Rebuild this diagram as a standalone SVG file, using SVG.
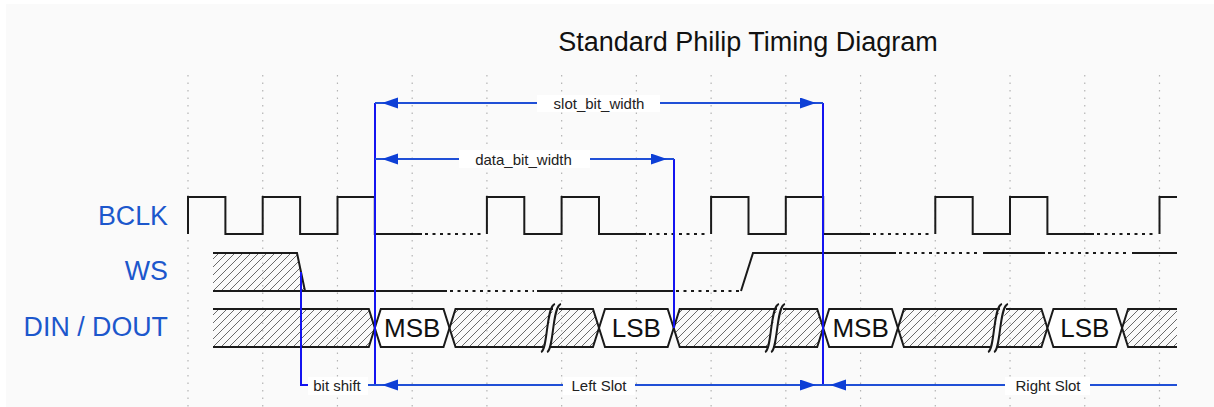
<svg xmlns="http://www.w3.org/2000/svg" width="1214" height="407" viewBox="0 0 1214 407">
<style>
.bg{fill:#fafafa}
.grid{stroke:#b4b4b4;stroke-width:1.2;stroke-dasharray:1.5 6;fill:none}
.wave{stroke:#1a1a1a;stroke-width:2;fill:none;stroke-linejoin:miter}
.dot{stroke:#1a1a1a;stroke-width:2;fill:none;stroke-dasharray:3 4.5}
.hatch{fill:url(#hatch);stroke:none}
.box{fill:#ffffff;stroke:#1a1a1a;stroke-width:2}
.slash{fill:none;stroke:#1a1a1a;stroke-width:2}
.vline{stroke:#1414f0;stroke-width:2;fill:none}
.dim{stroke:#1f4fd6;stroke-width:2;fill:none}
.lblbg{fill:#ffffff}
.title{font-family:"Liberation Sans",Arial,sans-serif;font-size:27px;fill:#111111}
.sig{font-family:"Liberation Sans",Arial,sans-serif;font-size:26.8px;fill:#1c57cc;text-anchor:end}
.bit{font-family:"Liberation Sans",Arial,sans-serif;font-size:26px;fill:#111111;text-anchor:middle}
.small{font-family:"Liberation Sans",Arial,sans-serif;font-size:15px;fill:#222222;text-anchor:middle}
</style>
<defs>
<pattern id="hatch" patternUnits="userSpaceOnUse" width="8" height="8">
<path d="M-2,2 L2,-2 M0,8 L8,0 M6,10 L10,6" stroke="#5a5a5a" stroke-width="0.9"/>
</pattern>
<marker id="arr" markerUnits="userSpaceOnUse" markerWidth="24" markerHeight="12" refX="23" refY="5.5" orient="auto-start-reverse">
<path d="M0,0 L16,5.5 L0,11 Z" fill="#0d3fd6"/>
</marker>
</defs>
<rect class="bg" x="6" y="4" width="1208" height="403"/>
<g id="grid">
<path class="grid" d="M188,75V407 M262.73,75V407 M337.46,75V407 M412.19,75V407 M486.92,75V407 M561.65,75V407 M636.38,75V407 M711.11,75V407 M785.84,75V407 M860.57,75V407 M935.3,75V407 M1010.03,75V407 M1084.76,75V407 M1159.49,75V407"/>
</g>
<g id="title"><text class="title" x="748" y="51" text-anchor="middle">Standard Philip Timing Diagram</text></g>
<g id="labels">
<text class="sig" x="168" y="225">BCLK</text>
<text class="sig" x="168" y="280">WS</text>
<text class="sig" x="168" y="336">DIN / DOUT</text>
</g>
<g id="bclk">
<path class="wave" d="M188,234 V197 H225.4 V234 H262.7 V197 H300.1 V234 H337.5 V197 H374.8 V234 H422"/>
<path class="dot" d="M425,234 H484"/>
<path class="wave" d="M486.9,234 V197 H524.3 V234 H561.6 V197 H599 V234 H646"/>
<path class="dot" d="M649,234 H708"/>
<path class="wave" d="M711.1,234 V197 H748.5 V234 H785.8 V197 H823.2 V234 H870"/>
<path class="dot" d="M873,234 H932"/>
<path class="wave" d="M935.3,234 V197 H972.7 V234 H1010 V197 H1047.4 V234 H1094"/>
<path class="dot" d="M1097,234 H1156"/>
<path class="wave" d="M1159.5,234 V197 H1177"/>
</g>
<g id="ws">
<path class="hatch" d="M213,253 H297 L305,291 H213 Z"/>
<path class="wave" d="M213,253 H297 L305,291 M213,291 H447"/>
<path class="dot" d="M450,291 H534"/>
<path class="wave" d="M537,291 H673"/>
<path class="dot" d="M676,291 H740"/>
<path class="wave" d="M741,291 L753,253 H896"/>
<path class="dot" d="M899,253 H981"/>
<path class="wave" d="M983,253 H1045"/>
<path class="dot" d="M1048,253 H1130"/>
<path class="wave" d="M1132,253 H1177"/>
</g>
<g id="din">
<path class="hatch" d="M213,309 H368.8 L374.8,328 L368.8,347 H213 Z"/>
<path class="wave" d="M213,309 H368.8 L374.8,328 L368.8,347 H213"/>
<path class="box" d="M374.8,328 L380.8,309 H443.5 L449.5,328 L443.5,347 H380.8 Z"/>
<text class="bit" x="412.2" y="337">MSB</text>
<path class="hatch" d="M449.5,328 L455.5,309 H553 L543,347 H455.5 Z"/>
<path class="wave" d="M553,309 H455.5 L449.5,328 L455.5,347 H543"/>
<path class="slash" d="M541,352 C548,350 546,306 555,304"/>
<path class="hatch" d="M559,309 H593 L599,328 L593,347 H549 Z"/>
<path class="wave" d="M559,309 H593 L599,328 L593,347 H549"/>
<path class="slash" d="M547,352 C554,350 552,306 561,304"/>
<path class="box" d="M599,328 L605,309 H667.7 L673.7,328 L667.7,347 H605 Z"/>
<text class="bit" x="636.4" y="337">LSB</text>
<path class="hatch" d="M673.7,328 L679.7,309 H777 L767,347 H679.7 Z"/>
<path class="wave" d="M777,309 H679.7 L673.7,328 L679.7,347 H767"/>
<path class="slash" d="M765,352 C772,350 770,306 779,304"/>
<path class="hatch" d="M783,309 H817.2 L823.2,328 L817.2,347 H773 Z"/>
<path class="wave" d="M783,309 H817.2 L823.2,328 L817.2,347 H773"/>
<path class="slash" d="M771,352 C778,350 776,306 785,304"/>
<path class="box" d="M823.2,328 L829.2,309 H891.9 L897.9,328 L891.9,347 H829.2 Z"/>
<text class="bit" x="860.6" y="337">MSB</text>
<path class="hatch" d="M897.9,328 L903.9,309 H1000 L990,347 H903.9 Z"/>
<path class="wave" d="M1000,309 H903.9 L897.9,328 L903.9,347 H990"/>
<path class="slash" d="M988,352 C995,350 993,306 1002,304"/>
<path class="hatch" d="M1006,309 H1041.4 L1047.4,328 L1041.4,347 H996 Z"/>
<path class="wave" d="M1006,309 H1041.4 L1047.4,328 L1041.4,347 H996"/>
<path class="slash" d="M994,352 C1001,350 999,306 1008,304"/>
<path class="box" d="M1047.4,328 L1053.4,309 H1116.1 L1122.1,328 L1116.1,347 H1053.4 Z"/>
<text class="bit" x="1084.8" y="337">LSB</text>
<path class="hatch" d="M1122.1,328 L1128.1,309 H1177 V347 H1128.1 Z"/>
<path class="wave" d="M1177,309 H1128.1 L1122.1,328 L1128.1,347 H1177"/>
</g>
<g id="connectors">
<path class="vline" d="M375,103 V385"/>
<path class="vline" d="M823,103 V385"/>
<path class="vline" d="M674,159 V328"/>
<path class="vline" d="M301,272 V385 H308"/>
<path class="dim" d="M368,385 H375"/>
<path class="dim" d="M375,103 H823" marker-start="url(#arr)" marker-end="url(#arr)"/>
<path class="dim" d="M375,159 H674" marker-start="url(#arr)" marker-end="url(#arr)"/>
<path class="dim" d="M375,385 H823" marker-start="url(#arr)" marker-end="url(#arr)"/>
<path class="dim" d="M823,385 H1177" marker-start="url(#arr)"/>
</g>
<g id="dim-labels">
<rect class="lblbg" x="537" y="95" width="123" height="17"/>
<text class="small" x="599" y="109">slot_bit_width</text>
<rect class="lblbg" x="459" y="150" width="131" height="18"/>
<text class="small" x="523.5" y="165">data_bit_width</text>
<rect class="lblbg" x="308" y="377" width="60" height="18"/>
<text class="small" x="337" y="390.5">bit shift</text>
<rect class="lblbg" x="563" y="377" width="72" height="18"/>
<text class="small" x="599" y="390.5">Left Slot</text>
<rect class="lblbg" x="1005" y="377" width="85" height="18"/>
<text class="small" x="1048" y="390.5">Right Slot</text>
</g>
</svg>
